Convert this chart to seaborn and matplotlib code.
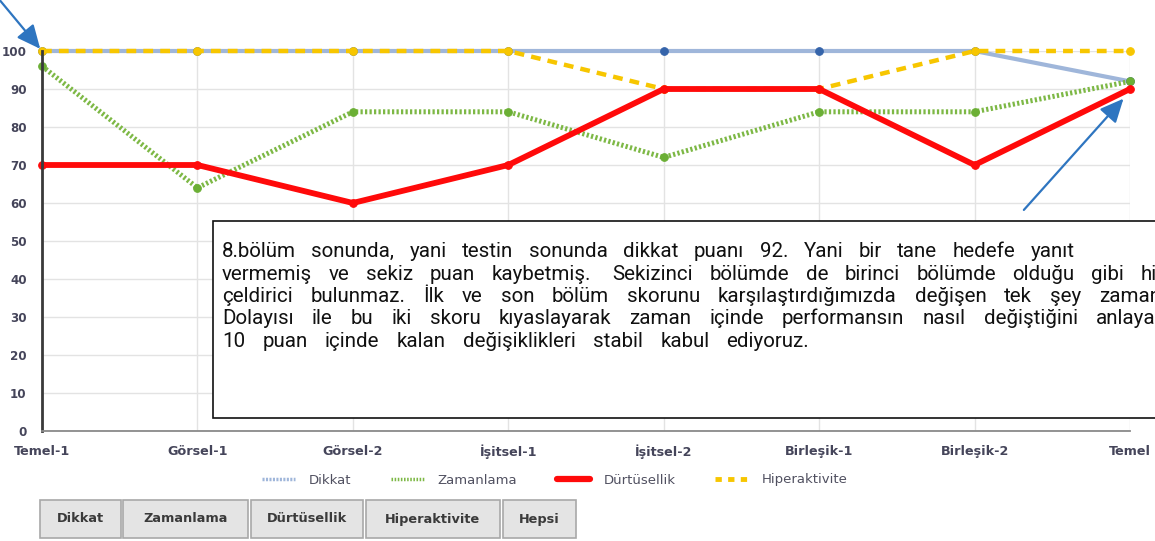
import matplotlib
matplotlib.use("Agg")
import matplotlib.pyplot as plt
import seaborn as sns
import pandas as pd
from matplotlib.patches import Rectangle
from matplotlib.lines import Line2D
from matplotlib.font_manager import FontProperties

categories = ["Temel-1", "Görsel-1", "Görsel-2", "İşitsel-1", "İşitsel-2",
              "Birleşik-1", "Birleşik-2", "Temel"]
dikkat = [100, 100, 100, 100, 100, 100, 100, 92]
zamanlama = [96, 64, 84, 84, 72, 84, 84, 92]
durtusellik = [70, 70, 60, 70, 90, 90, 70, 90]
hiperaktivite = [100, 100, 100, 100, 90, 90, 100, 100]
y_ticks = [0, 10, 20, 30, 40, 50, 60, 70, 80, 90, 100]
legend_labels = ["Dikkat", "Zamanlama", "Dürtüsellik", "Hiperaktivite"]
buttons = ["Dikkat", "Zamanlama", "Dürtüsellik", "Hiperaktivite", "Hepsi"]
note_lines = [
    "8.bölüm sonunda, yani testin sonunda dikkat puanı 92. Yani bir tane hedefe yanıt",
    "vermemiş ve sekiz puan kaybetmiş.  Sekizinci bölümde de birinci bölümde olduğu gibi hiç",
    "çeldirici bulunmaz. İlk ve son bölüm skorunu karşılaştırdığımızda değişen tek şey zamandır.",
    "Dolayısı ile bu iki skoru kıyaslayarak zaman içinde performansın nasıl değiştiğini anlayabiliriz.",
    "10 puan içinde kalan değişiklikleri stabil kabul ediyoruz.",
]

sns.set_theme(style="white")
plt.rcParams['font.family'] = ['DejaVu Sans']

W, H = 1155, 541
fig = plt.figure(figsize=(W / 100, H / 100), dpi=100)
left, right, bottom, top = 42, 1130, 431, 51
ax = fig.add_axes([left / W, (H - bottom) / H, (right - left) / W, (bottom - top) / H])

df = pd.DataFrame({"cat": categories, "Dikkat": dikkat, "Zamanlama": zamanlama,
                   "Dürtüsellik": durtusellik, "Hiperaktivite": hiperaktivite})

styles = {
    "Dikkat": dict(color="#9FB6DA", lw=3, ls="-", mc="#3564AA"),
    "Hiperaktivite": dict(color="#F7C600", lw=3.2, ls=(0, (2.2, 1.6)), mc="#F7C600"),
    "Zamanlama": dict(color="#7DB845", lw=3.6, ls=(0, (0.45, 0.45)), mc="#6BAF35"),
    "Dürtüsellik": dict(color="#FF0A0A", lw=4.2, ls="-", mc="#FF0A0A"),
}
for name in ["Dikkat", "Hiperaktivite", "Zamanlama", "Dürtüsellik"]:
    s = styles[name]
    sns.lineplot(data=df, x="cat", y=name, ax=ax, color=s["color"], linewidth=s["lw"],
                 linestyle=s["ls"], marker="o", markersize=5.5, markerfacecolor=s["mc"],
                 markeredgecolor=s["mc"], clip_on=False, sort=False)

ax.set_xlim(0, len(categories) - 1)
ax.set_ylim(0, 100)
ax.set_yticks(y_ticks)
ax.set_yticklabels([str(v) for v in y_ticks])
ax.set_xticks(range(len(categories)))
ax.set_xticklabels(categories)
ax.set_xlabel("")
ax.set_ylabel("")
ax.grid(True, color="#E3E3E3", lw=1)
ax.set_axisbelow(True)
for sp in ["top", "right"]:
    ax.spines[sp].set_visible(False)
ax.spines["left"].set_color("#3A3A3A")
ax.spines["left"].set_linewidth(2)
ax.spines["bottom"].set_color("#8A8A8A")
ax.spines["bottom"].set_linewidth(1.3)
ax.tick_params(axis="y", length=8.5, color="#C8C8C8", width=1, pad=2.5,
               labelsize=8.6, labelcolor="#45455A")
ax.tick_params(axis="x", length=5, color="#6A6A6A", width=1.3, pad=5,
               labelsize=9.2, labelcolor="#45455A")
for lab in ax.get_yticklabels() + ax.get_xticklabels():
    lab.set_fontweight("bold")

# legend
handles = [
    Line2D([], [], color=styles["Dikkat"]["color"], lw=2.5, ls=(0, (0.6, 0.4))),
    Line2D([], [], color=styles["Zamanlama"]["color"], lw=2.5, ls=(0, (0.45, 0.45))),
    Line2D([], [], color=styles["Dürtüsellik"]["color"], lw=4.5, ls="-"),
    Line2D([], [], color=styles["Hiperaktivite"]["color"], lw=3.5, ls=(0, (1.3, 1.3))),
]
fig.legend(handles, legend_labels,
           loc="center left", bbox_to_anchor=(255 / W, (H - 480) / H), ncol=4, frameon=False,
           borderpad=0, handlelength=2.5, columnspacing=3.0, handletextpad=1.05,
           prop={"size": 9.5}, labelcolor="#505060")

# buttons
btn_x = [(40, 121), (123, 248), (251, 363), (366, 500), (503, 576)]
for (x0, x1), lab in zip(btn_x, buttons):
    fig.patches.append(Rectangle((x0, H - 538), x1 - x0, 38, transform=None,
                                 facecolor="#E4E4E4", edgecolor="#A8A8A8", lw=1.2))
    fig.text((x0 + x1) / 2 / W, (H - 519) / H, lab, ha="center", va="center",
             fontsize=9.3, fontweight="bold", color="#3A3A3A")

# note box
fig.patches.append(Rectangle((213, H - 418), 1100, 197, transform=None,
                             facecolor="white", edgecolor="#111111", lw=1.2, zorder=5))
renderer = fig.canvas.get_renderer()
prop = FontProperties(family="Roboto", size=14.8)


def text_w(s):
    return renderer.get_text_width_height_descent(s, prop, ismath=False)[0]


def word_lefts(line):
    out = []
    idx = 0
    for w in line.split(" "):
        if w:
            out.append((w, text_w(line[:idx + len(w)]) - text_w(w)))
        idx += len(w) + 1
    return out


# the reference text is drawn horizontally stretched; spread each line's
# words evenly so every line spans the same width as in the reference
x0_txt, x1_first = 222, 1075
stretch = (x1_first - x0_txt) / text_w(note_lines[0])
baselines = [257, 279.5, 302, 324.5, 347]
for yb, line in zip(baselines, note_lines):
    words = word_lefts(line)
    extra = (stretch - 1) * text_w(line)
    gap = extra / max(len(words) - 1, 1)
    for k, (w, lx) in enumerate(words):
        fig.text((x0_txt + lx + k * gap) / W, (H - yb) / H, w, ha="left", va="baseline",
                 fontproperties=prop, color="#111111", zorder=6)

# arrows
arrow_kw = dict(arrowstyle="-|>,head_length=1.2,head_width=0.55", color="#2E75C0", lw=1.6)
ax.annotate("", xy=(0, 100), xycoords="data", xytext=(-2, H + 2),
            textcoords="figure pixels", arrowprops=arrow_kw, annotation_clip=False, zorder=10)
ax.annotate("", xy=(6.97, 88), xycoords="data", xytext=(1022, H - 212),
            textcoords="figure pixels", arrowprops=arrow_kw, annotation_clip=False, zorder=10)

fig.savefig("out.png", dpi=100)
